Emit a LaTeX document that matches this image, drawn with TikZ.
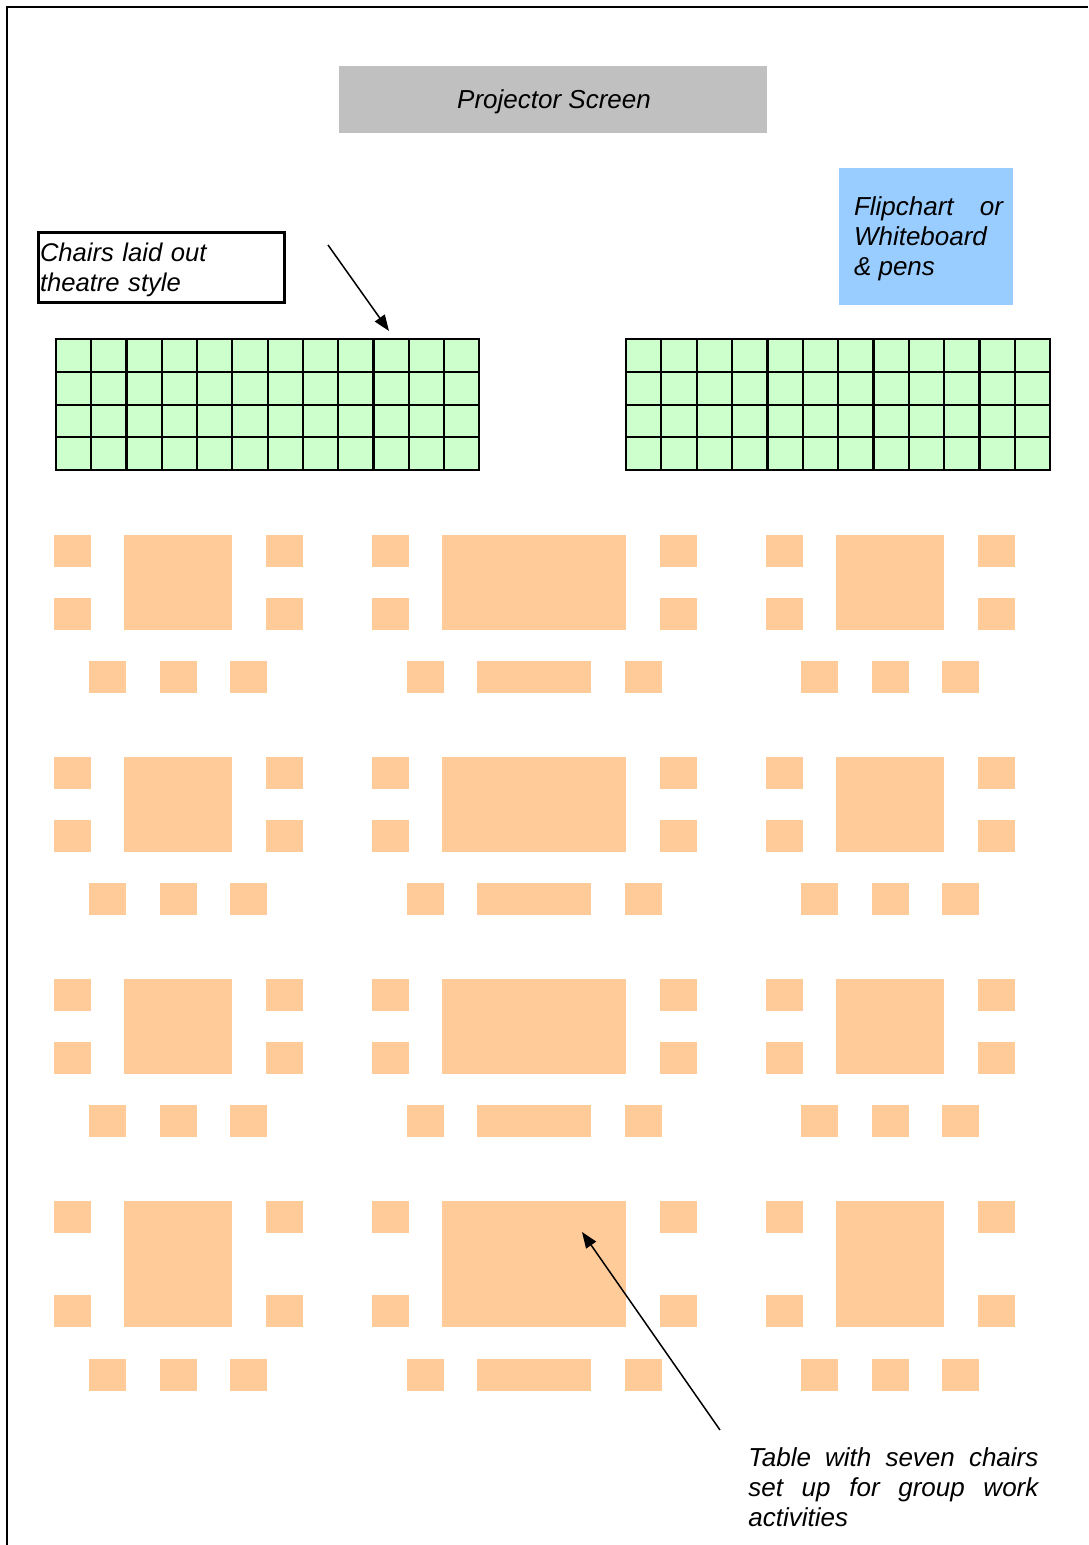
\documentclass[tikz,border=0pt]{standalone}
\usepackage{xcolor}
\usepackage{fontspec}
\setmainfont{Liberation Sans}
\usepackage{tikz}
\usetikzlibrary{arrows.meta}
\usetikzlibrary{calc,positioning}

\definecolor{screengrey}{HTML}{C0C0C0}
\definecolor{chartblue}{HTML}{99CCFF}
\definecolor{chairgreen}{HTML}{CCFFCC}
\definecolor{tableorange}{HTML}{FFCC99}

\tikzset{
    notetext/.style={font=\fontsize{13}{15}\selectfont\itshape, inner sep=0pt},
    pointer/.style={line width=0.75pt, -{Triangle[length=8pt,width=6pt]}},
    seat/.style={fill=tableorange},
    theatre/.style={fill=chairgreen, draw=black, line width=1.1pt}
}

\begin{document}
\begin{tikzpicture}[x=0.5pt,y=-0.5pt]

    \useasboundingbox (0,0) rectangle (1088,1545);

    % Page edge
    \draw[line width=1pt] (7,1545) -- (7,7) -- (1088,7);

    % Screen
    \fill[screengrey] (339,66) rectangle (767,133);
    \node[notetext] (screen) at (554,101.5) {Projector Screen};

    % Flipchart
    \fill[chartblue] (839,168) rectangle (1013,305);
    \node[notetext, text width=74.5pt, align=justify] (flipchart) at (928.5,238.5) {Flipchart or Whiteboard\\ \& pens};

    % Note on the chairs
    \draw[line width=1.5pt] (38,233) rectangle (284,303);
    \node[notetext, font=\fontsize{12.8}{15}\selectfont\itshape, text width=121pt, align=left] (chairsnote) at (161,270) {Chairs laid out\\theatre style};
    \coordinate (chairsfrom) at (328,245);
    \coordinate (chairsto) at (389,331);
    \draw[pointer] (chairsfrom) -- (chairsto);

    % Theatre chairs
    \foreach \xa/\s in {56/35.27,626/35.35} {
        \foreach \c in {0,...,11} {
            \foreach \ya/\yb in {339/372,372/405,405/437,437/470} {
                \draw[theatre] ({\xa+\c*\s},\ya) rectangle ({\xa+(\c+1)*\s},\yb);
            }
        }
    }

    % Tables: top, second chair, end of table, bottom chairs
    \foreach \ya/\yb/\yc/\yd in {534.5/598/630/661,756.5/820/852/883,978.5/1041.5/1073.5/1105,1200.5/1295/1327/1359} {
        % Left and right tables
        \foreach \xa in {0,712} {
            \fill[seat] (54+\xa,\ya) rectangle (91+\xa,\ya+32);
            \fill[seat] (54+\xa,\yb) rectangle (91+\xa,\yc);
            \fill[seat] (124+\xa,\ya) rectangle (232+\xa,\yc);
            \fill[seat] (265.5+\xa,\ya) rectangle (303+\xa,\ya+32);
            \fill[seat] (265.5+\xa,\yb) rectangle (303+\xa,\yc);
            \fill[seat] (89+\xa,\yd) rectangle (126+\xa,\yd+32);
            \fill[seat] (160+\xa,\yd) rectangle (197+\xa,\yd+32);
            \fill[seat] (230+\xa,\yd) rectangle (267+\xa,\yd+32);
        }
        % Middle table
        \fill[seat] (371.5,\ya) rectangle (409,\ya+32);
        \fill[seat] (371.5,\yb) rectangle (409,\yc);
        \fill[seat] (442,\ya) rectangle (626,\yc);
        \fill[seat] (659.5,\ya) rectangle (697,\ya+32);
        \fill[seat] (659.5,\yb) rectangle (697,\yc);
        \fill[seat] (407,\yd) rectangle (444,\yd+32);
        \fill[seat] (477,\yd) rectangle (591,\yd+32);
        \fill[seat] (625,\yd) rectangle (662,\yd+32);
    }

    % Note on the tables
    \node[notetext, text width=145pt, align=justify, anchor=north west] (tablenote) at (748,1447) {Table with seven chairs set up for group work\linebreak activities};
    \coordinate (tablefrom) at (720,1430);
    \coordinate (tableto) at (582,1232);
    \draw[pointer] (tablefrom) -- (tableto);

\end{tikzpicture}
\end{document}
